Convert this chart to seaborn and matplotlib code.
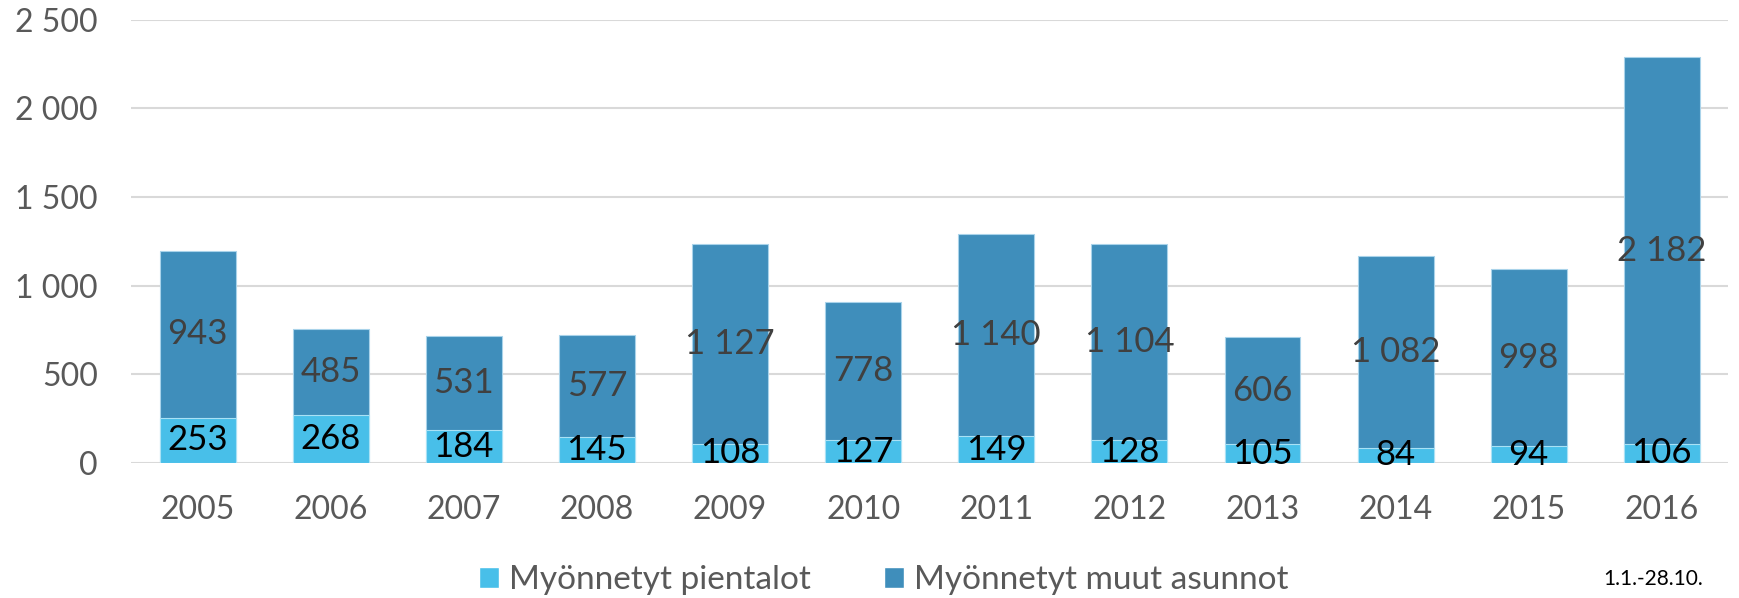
import matplotlib
matplotlib.use("Agg")
import matplotlib.pyplot as plt
import pandas as pd
import seaborn as sns
from matplotlib.patches import Patch

# data
years = ["2005", "2006", "2007", "2008", "2009", "2010",
         "2011", "2012", "2013", "2014", "2015", "2016"]
pientalot = [253, 268, 184, 145, 108, 127, 149, 128, 105, 84, 94, 106]
muut = [943, 485, 531, 577, 1127, 778, 1140, 1104, 606, 1082, 998, 2182]
labels = ["Myönnetyt pientalot", "Myönnetyt muut asunnot"]
yticks = [0, 500, 1000, 1500, 2000, 2500]
note = "1.1.-28.10."

light = "#48BFE9"
dark = "#3F8EBB"
gray = "#595959"

sns.set_style("white")
plt.rcParams["font.family"] = ["Lato", "DejaVu Sans"]

df = pd.DataFrame({"year": years, "pientalot": pientalot, "muut": muut})
df["total"] = df["pientalot"] + df["muut"]


def fmt(v):
    return f"{v:,}".replace(",", " ")


fig = plt.figure(figsize=(17.4, 5.98), dpi=100)
ax = fig.add_axes([0.0753, 0.226, 0.918, 0.741])

# stacked: total first, lower series drawn over it
sns.barplot(data=df, x="year", y="total", color=dark, width=0.57,
            saturation=1, edgecolor="#A9D3EA", linewidth=0.8, ax=ax, zorder=2)
sns.barplot(data=df, x="year", y="pientalot", color=light, width=0.57,
            saturation=1, edgecolor="#A9E1F5", linewidth=0.8, ax=ax, zorder=3)

for i, row in df.iterrows():
    ax.text(i, row["pientalot"] / 2, fmt(row["pientalot"]), ha="center",
            va="center", fontsize=25, color="black", zorder=5)
    ax.text(i, row["pientalot"] + row["muut"] / 2, fmt(row["muut"]),
            ha="center", va="center", fontsize=25, color="#404040", zorder=5)

ax.set_xlim(-0.5, len(years) - 0.5)
ax.set_ylim(0, 2500)
ax.set_yticks(yticks)
ax.set_yticklabels([fmt(t) for t in yticks])
ax.yaxis.grid(True, color="#D9D9D9", linewidth=1.5, zorder=0)
ax.set_axisbelow(True)
ax.tick_params(axis="both", length=0, labelsize=23, labelcolor=gray)
ax.tick_params(axis="x", pad=23)
ax.tick_params(axis="y", pad=24)
ax.set_xlabel("")
ax.set_ylabel("")
sns.despine(ax=ax, left=True, bottom=True)

handles = [Patch(facecolor=light, label=labels[0]),
           Patch(facecolor=dark, label=labels[1])]
fig.legend(handles=handles, loc="center", bbox_to_anchor=(0.508, 0.03),
           ncol=2, frameon=False, fontsize=24, labelcolor=gray,
           handlelength=0.6, handleheight=0.6, handletextpad=0.3,
           columnspacing=2.2)

fig.text(0.979, 0.032, note, ha="right", va="center", fontsize=15, color="black")

fig.savefig("out.png", dpi=100)
